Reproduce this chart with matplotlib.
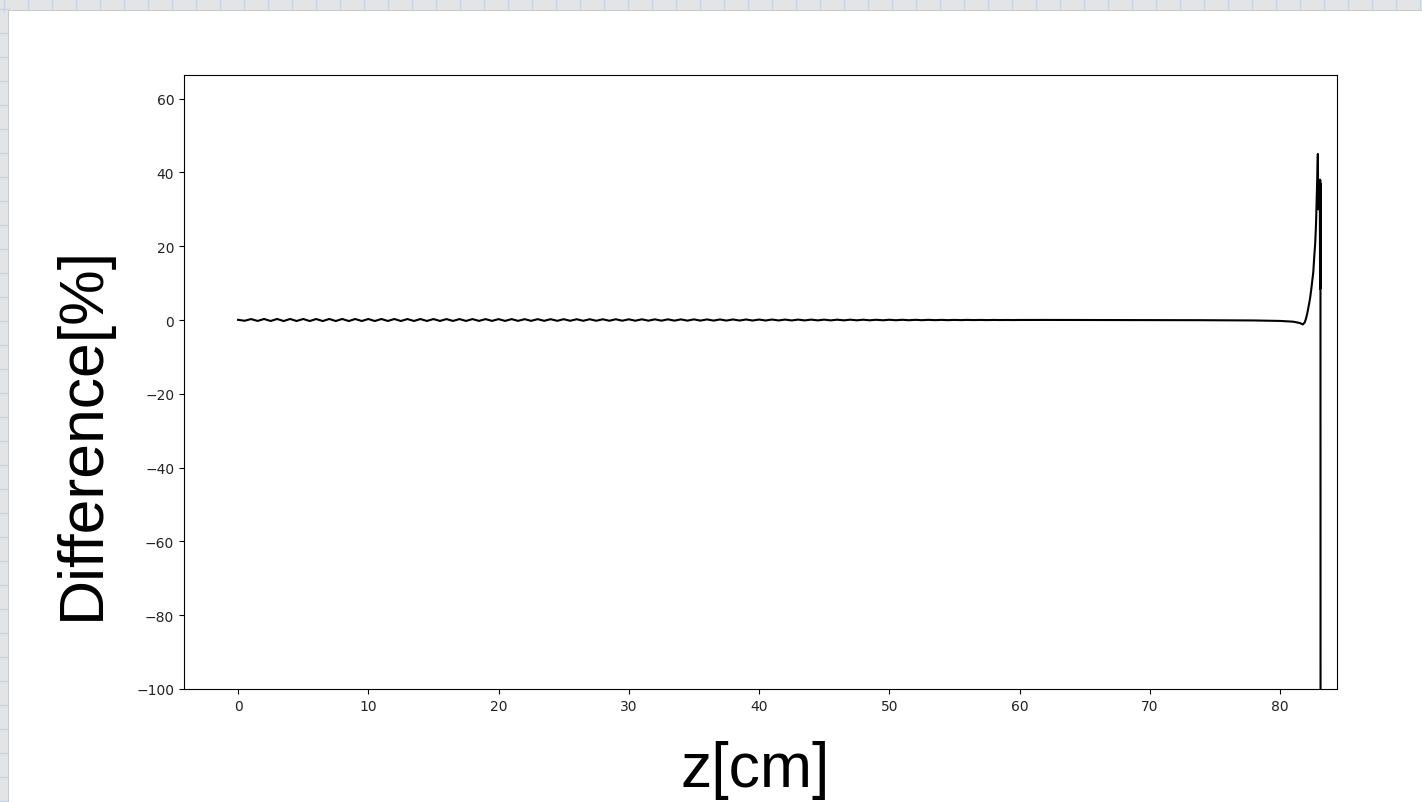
import numpy as np
import matplotlib
matplotlib.use('Agg')
from matplotlib import pyplot as plt
from matplotlib.patches import Rectangle

# difference along z, sampled every 0.5 cm up to 60 cm (small ripple)
diff_ripple = [0.05, -0.2, 0.25, -0.25, 0.28, -0.27, 0.28, -0.28, 0.28, -0.27, 0.28,
               -0.28, 0.27, -0.28, 0.28, -0.27, 0.28, -0.28, 0.27, -0.27, 0.27,
               -0.27, 0.27, -0.26, 0.27, -0.27, 0.26, -0.26, 0.26, -0.26, 0.26,
               -0.25, 0.25, -0.25, 0.25, -0.25, 0.25, -0.24, 0.24, -0.24, 0.24,
               -0.24, 0.24, -0.23, 0.23, -0.23, 0.23, -0.22, 0.22, -0.22, 0.22,
               -0.21, 0.21, -0.21, 0.21, -0.2, 0.2, -0.2, 0.2, -0.19, 0.19,
               -0.19, 0.19, -0.18, 0.18, -0.18, 0.18, -0.17, 0.17, -0.17, 0.17,
               -0.16, 0.16, -0.16, 0.15, -0.15, 0.15, -0.14, 0.14, -0.14, 0.13,
               -0.13, 0.13, -0.12, 0.12, -0.12, 0.11, -0.11, 0.11, -0.1, 0.1,
               -0.1, 0.09, -0.09, 0.09, -0.08, 0.08, -0.08, 0.07, -0.07, 0.07,
               -0.06, 0.06, -0.06, 0.05, -0.05, 0.05, -0.04, 0.04, -0.04, 0.03,
               -0.03, 0.03, -0.02, 0.02, -0.02, 0.02, -0.01, 0.01, -0.01, 0.01]
z_ripple = np.linspace(0, 60, len(diff_ripple))

# end region
z_end = [62, 66, 70, 74, 78, 80, 81, 81.5, 81.75, 81.9, 82.0, 82.1, 82.2, 82.3,
         82.4, 82.5, 82.55, 82.62, 82.7, 82.76, 82.8, 82.85, 82.9, 82.93,
         83.05, 83.07, 83.08, 83.09, 83.1, 83.11]
diff_end = [0.02, 0.0, 0.0, -0.05, -0.12, -0.25, -0.45, -0.8, -1.2, -0.6, 0.5, 2.0,
            3.9, 5.8, 8.5, 11.5, 13, 17, 21, 26, 31, 38, 45, 30,
            38, 8.5, 38, 8.5, 37, -160]

z = np.concatenate([z_ripple, z_end])
diff = np.concatenate([diff_ripple, diff_end])

xticks = [0, 10, 20, 30, 40, 50, 60, 70, 80]
yticks = [-100, -80, -60, -40, -20, 0, 20, 40, 60]

W, H = 1422, 803
fig = plt.figure(figsize=(W / 100, H / 100), dpi=100, facecolor='#e2e4e6')

# graph paper strip behind the white sheet
for gx in np.arange(4, W, 24):
    fig.add_artist(plt.Line2D([gx / W, gx / W], [1 - 12 / H, 1], color='#c3d7e8',
                              lw=1, zorder=-3))
for gy in np.arange(10, H, 24):
    fig.add_artist(plt.Line2D([0, 9 / W], [1 - gy / H, 1 - gy / H], color='#c3d7e8',
                              lw=1, zorder=-3))
fig.add_artist(Rectangle((8 / W, 0), 1 - 8 / W, 1 - 11 / H, transform=fig.transFigure,
                         facecolor='#c8c8c8', edgecolor='none', zorder=-2))
fig.add_artist(Rectangle((9 / W, 0), 1, 1 - 12 / H, transform=fig.transFigure,
                         facecolor='white', edgecolor='none', zorder=-1))

ax = fig.add_axes([184 / W, 1 - 690 / H, (1337 - 184) / W, (690 - 76) / H])
ax.plot(z, diff, color='k', lw=1.5)
ax.set_xlim(-4.15, 84.37)
ax.set_ylim(-100, 66.4)
ax.set_xticks(xticks)
ax.set_yticks(yticks)
ax.tick_params(labelsize=10, labelcolor='#222222')

fig.text(755 / W, 1 - 771 / H, 'z[cm]', fontsize=45, family=['Liberation Sans', 'DejaVu Sans'],
         ha='center', va='center')
fig.text(82 / W, 1 - 433 / H, 'Difference[%]', fontsize=45, rotation=90,
         family=['Liberation Sans', 'DejaVu Sans'], ha='center', va='center')

fig.savefig('out.png', dpi=100, facecolor=fig.get_facecolor())
